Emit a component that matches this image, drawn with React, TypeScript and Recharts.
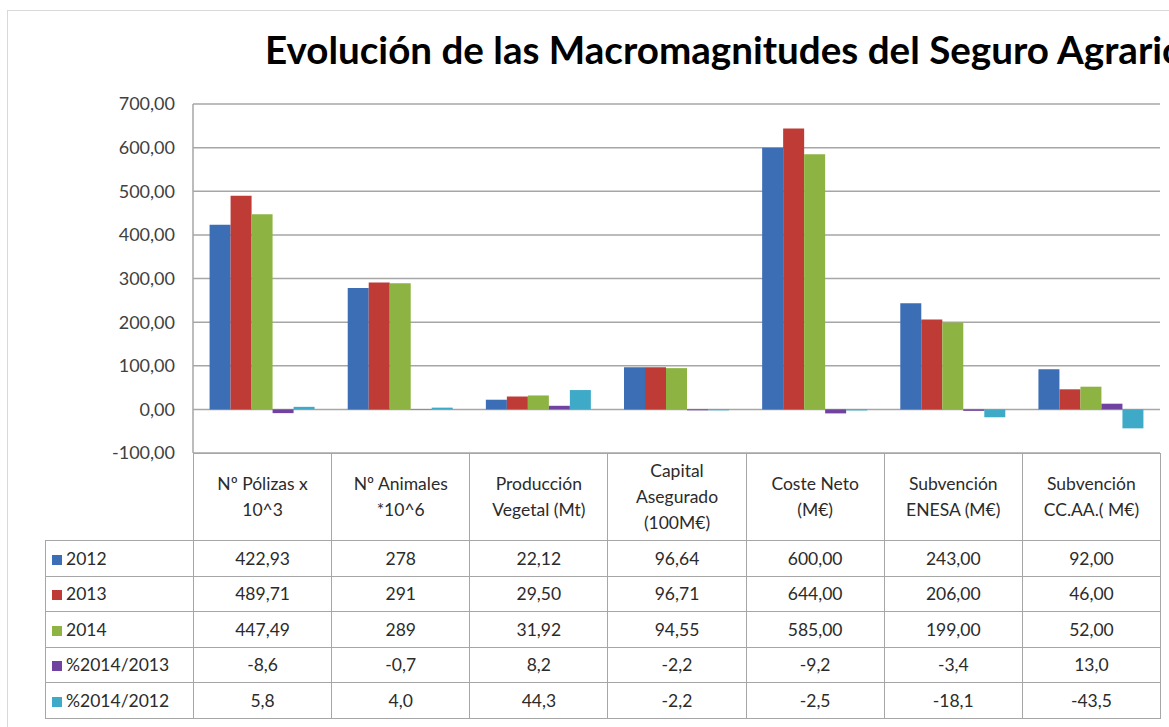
import { BarChart, Bar, XAxis, YAxis, CartesianGrid } from 'recharts';

const categories = [
  'Nº Pólizas x\n10^3',
  'Nº Animales\n*10^6',
  'Producción\nVegetal (Mt)',
  'Capital\nAsegurado\n(100M€)',
  'Coste Neto\n(M€)',
  'Subvención\nENESA  (M€)',
  'Subvención\nCC.AA.( M€)',
];

const seriesNames = ['2012', '2013', '2014', '%2014/2013', '%2014/2012'];

const v2012 = [422.93, 278, 22.12, 96.64, 600.0, 243.0, 92.0];
const v2013 = [489.71, 291, 29.5, 96.71, 644.0, 206.0, 46.0];
const v2014 = [447.49, 289, 31.92, 94.55, 585.0, 199.0, 52.0];
const pct1413 = [-8.6, -0.7, 8.2, -2.2, -9.2, -3.4, 13.0];
const pct1412 = [5.8, 4.0, 44.3, -2.2, -2.5, -18.1, -43.5];

// decimals shown in the data table
const yearDecimals = [2, 0, 2, 2, 2, 2, 2];
const pctDecimals = 1;

const yTicks = [-100, 0, 100, 200, 300, 400, 500, 600, 700];

const COLORS = ['#3C6EB6', '#BE3B36', '#8DB443', '#7043A0', '#3FAAC8'];

const seriesValues = [v2012, v2013, v2014, pct1413, pct1412];

const data = categories.map((c, i) => {
  const row: Record<string, string | number> = { name: c };
  seriesNames.forEach((s, k) => {
    row[s] = seriesValues[k][i];
  });
  return row;
});

const fmt = (v: number, d: number) => v.toFixed(d).replace('.', ',');

const W = 1169;
const H = 727;
const PLOT_LEFT = 193;
const PLOT_RIGHT = 1160;
const PLOT_TOP = 104;
const PLOT_BOTTOM = 453;
const COL_W = (PLOT_RIGHT - PLOT_LEFT) / categories.length;
const LABEL_LEFT = 45;
const BORDER = '1.5px solid #a6a6a6';
const FONT = 'Lato, "Open Sans", sans-serif';
const TEXT = '#2b2b2b';

export default function App() {
  return (
    <div
      style={{
        position: 'absolute',
        left: 0,
        top: 0,
        width: W,
        height: H,
        background: '#fff',
        overflow: 'hidden',
        fontFamily: FONT,
      }}
    >
      <div
        style={{
          position: 'absolute',
          left: 7,
          top: 10,
          width: W + 20,
          height: H + 20,
          border: '1px solid #d9d9d9',
        }}
      />
      <div
        style={{
          position: 'absolute',
          left: 265,
          top: 26,
          fontSize: 38.6,
          fontWeight: 700,
          whiteSpace: 'nowrap',
          color: '#000',
        }}
      >
        Evolución de las Macromagnitudes del Seguro Agrario
      </div>

      <div style={{ position: 'absolute', left: 0, top: 0 }}>
        <BarChart
          width={W}
          height={H}
          data={data}
          margin={{ top: PLOT_TOP, right: W - PLOT_RIGHT, bottom: H - PLOT_BOTTOM, left: 0 }}
          barCategoryGap="12%"
          barGap={0}
        >
          <CartesianGrid vertical={false} stroke="#a6a6a6" strokeWidth={1.5} />
          <XAxis dataKey="name" hide />
          <YAxis
            width={PLOT_LEFT}
            domain={[-100, 700]}
            ticks={yTicks}
            interval={0}
            tickLine={false}
            tickSize={6}
            tickMargin={12}
            axisLine={{ stroke: '#a6a6a6', strokeWidth: 1.5 }}
            tick={{ fill: '#404040', fontSize: 18, fontFamily: FONT }}
            tickFormatter={(v: number) => fmt(v, 2)}
          />
          {seriesNames.map((s, k) => (
            <Bar key={s} dataKey={s} fill={COLORS[k]} isAnimationActive={false} />
          ))}
        </BarChart>
      </div>

      <table
        style={{
          position: 'absolute',
          left: LABEL_LEFT,
          top: PLOT_BOTTOM,
          borderCollapse: 'collapse',
          tableLayout: 'fixed',
          width: PLOT_RIGHT - LABEL_LEFT,
          fontFamily: FONT,
          fontSize: 17.5,
          color: TEXT,
        }}
      >
        <colgroup>
          <col style={{ width: PLOT_LEFT - LABEL_LEFT }} />
          {categories.map((c) => (
            <col key={c} style={{ width: COL_W }} />
          ))}
        </colgroup>
        <tbody>
          <tr style={{ height: 87 }}>
            <td style={{ border: 'none', padding: 0 }} />
            {categories.map((c) => (
              <td
                key={c}
                style={{
                  border: BORDER,
                  textAlign: 'center',
                  whiteSpace: 'pre-line',
                  lineHeight: '26px',
                  padding: 0,
                }}
              >
                {c}
              </td>
            ))}
          </tr>
          {seriesNames.map((s, k) => (
            <tr key={s} style={{ height: 35.5 }}>
              <td style={{ border: BORDER, padding: '0 0 0 6px', whiteSpace: 'nowrap' }}>
                <span
                  style={{
                    display: 'inline-block',
                    width: 10,
                    height: 10,
                    background: COLORS[k],
                    marginRight: 4,
                  }}
                />
                {s}
              </td>
              {seriesValues[k].map((v, i) => (
                <td key={i} style={{ border: BORDER, textAlign: 'center', padding: 0 }}>
                  {fmt(v, k < 3 ? yearDecimals[i] : pctDecimals)}
                </td>
              ))}
            </tr>
          ))}
        </tbody>
      </table>
    </div>
  );
}
